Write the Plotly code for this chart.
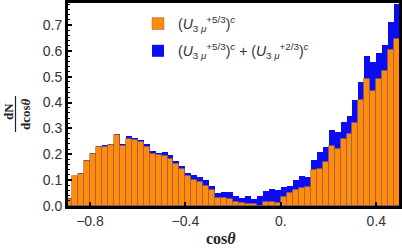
import plotly.graph_objects as go

# bin centres: 56 bins of width 0.025 from -0.9 to 0.5
bin_lo = -0.9
bin_w = 0.025
orange_vals = [0.028, 0.115, 0.123, 0.174, 0.200, 0.228, 0.229, 0.235, 0.274, 0.233,
               0.259, 0.255, 0.247, 0.229, 0.201, 0.197, 0.192, 0.181, 0.162, 0.143,
               0.117, 0.102, 0.094, 0.078, 0.063, 0.032, 0.030, 0.026, 0.017, 0.012,
               0.006, 0.008, 0.000, 0.015, 0.015, 0.013, 0.036, 0.050, 0.062, 0.068,
               0.073, 0.138, 0.144, 0.170, 0.232, 0.221, 0.260, 0.279, 0.322, 0.410,
               0.490, 0.445, 0.490, 0.521, 0.602, 0.646]
total_vals = [0.030, 0.117, 0.127, 0.178, 0.205, 0.232, 0.235, 0.239, 0.278, 0.239,
              0.271, 0.262, 0.255, 0.239, 0.212, 0.205, 0.208, 0.197, 0.175, 0.156,
              0.129, 0.121, 0.112, 0.100, 0.078, 0.051, 0.053, 0.055, 0.038, 0.032,
              0.040, 0.028, 0.039, 0.057, 0.066, 0.063, 0.075, 0.078, 0.102, 0.117,
              0.113, 0.178, 0.207, 0.229, 0.293, 0.287, 0.324, 0.349, 0.410, 0.480,
              0.579, 0.555, 0.592, 0.622, 0.713, 0.780]
centers = [bin_lo + bin_w * (i + 0.5) for i in range(len(orange_vals))]

x_tickvals = [-0.8, -0.4, 0.0, 0.4]
x_ticktext = ["\u22120.8", "\u22120.4", "0.", "0.4"]
y_tickvals = [0.0, 0.1, 0.2, 0.3, 0.4, 0.5, 0.6, 0.7]
y_ticktext = ["0.0", "0.1", "0.2", "0.3", "0.4", "0.5", "0.6", "0.7"]

name_orange = "(<i>U</i><sub>3 <i>μ</i></sub><sup>+5/3</sup>)<sup><i>c</i></sup>"
name_blue = ("(<i>U</i><sub>3 <i>μ</i></sub><sup>+5/3</sup>)<sup><i>c</i></sup> + "
             "(<i>U</i><sub>3 <i>μ</i></sub><sup>+2/3</sup>)<sup><i>c</i></sup>")

ORANGE = "#FF8A0C"
BLUE = "#0C0CF4"

fig = go.Figure()
fig.add_trace(go.Bar(x=centers, y=total_vals, width=bin_w, name=name_blue,
                     legendgroup="b", legendrank=2,
                     marker=dict(color=BLUE, line=dict(width=0))))
fig.add_trace(go.Bar(x=centers, y=orange_vals, width=bin_w, name=name_orange,
                     legendgroup="a", legendrank=1,
                     marker=dict(color=ORANGE, line=dict(width=1, color="rgba(120,100,80,0.45)"))))

W, H = 402, 252
L, R, T, B = 68, 3, 3, 46
pw, ph = W - L - R, H - T - B


def px(x):
    return (x - L) / pw


def py(y):
    return (H - B - y) / ph


font_txt = "Liberation Sans, Arial, sans-serif"
serif = "Liberation Serif, Times New Roman, serif"

fig.update_layout(
    width=W, height=H,
    margin=dict(l=L, r=R, t=T, b=B, autoexpand=False),
    paper_bgcolor="white", plot_bgcolor="white",
    barmode="overlay", bargap=0,
    showlegend=True,
    legend=dict(x=px(138), y=py(8), xanchor="left", yanchor="top",
                traceorder="grouped", bgcolor="rgba(0,0,0,0)",
                font=dict(family=font_txt, size=14, color="#333"),
                itemwidth=30, tracegroupgap=6),
    xaxis=dict(range=[-0.892, 0.495], tickvals=x_tickvals, ticktext=x_ticktext,
               ticks="inside", ticklen=4, tickwidth=2, tickcolor="black",
               showline=True, linewidth=3, linecolor="black", mirror=True,
               showgrid=False, zeroline=False, automargin=False,
               tickfont=dict(family=font_txt, size=14, color="#333")),
    yaxis=dict(range=[0, 0.785], tickvals=y_tickvals, ticktext=y_ticktext,
               ticks="inside", ticklen=4, tickwidth=2, tickcolor="black",
               minor=dict(dtick=0.02, ticks="inside", ticklen=2, tickwidth=1, tickcolor="black"),
               showline=True, linewidth=3, linecolor="black", mirror=True,
               showgrid=False, zeroline=False, automargin=False,
               tickfont=dict(family=font_txt, size=14, color="#333")),
)

# axis labels
fig.add_annotation(text="<b>cos<i>θ</i></b>", xref="paper", yref="paper",
                   x=px(221), y=py(239), xanchor="center", yanchor="middle",
                   showarrow=False,
                   font=dict(family=serif, size=16, color="#222"))
fig.add_annotation(text="<b>dN</b>", xref="paper", yref="paper",
                   x=px(8), y=py(112), xanchor="center", yanchor="middle",
                   showarrow=False, textangle=-90,
                   font=dict(family=serif, size=13, color="#222"))
fig.add_annotation(text="<b>dcos<i>θ</i></b>", xref="paper", yref="paper",
                   x=px(25), y=py(114), xanchor="center", yanchor="middle",
                   showarrow=False, textangle=-90,
                   font=dict(family=serif, size=13, color="#222"))
fig.add_shape(type="line", xref="paper", yref="paper",
              x0=px(15.5), x1=px(15.5), y0=py(96), y1=py(132),
              line=dict(color="#222", width=1.2))

fig.write_html("out.html", config={"displayModeBar": False},
               post_script="document.body.style.margin='0';document.body.style.padding='0';")
